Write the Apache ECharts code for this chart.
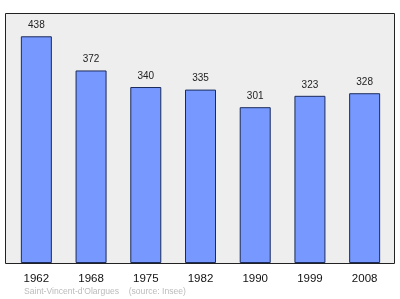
<!DOCTYPE html>
<html><head><meta charset="utf-8">
<script src="https://cdn.jsdelivr.net/npm/echarts@6/dist/echarts.min.js"></script>
<style>html,body{margin:0;padding:0;background:#fff}#c{width:400px;height:299px}</style>
</head><body><div id="c"></div>
<script>
const years = ['1962','1968','1975','1982','1990','1999','2008'];
const population = [438, 372, 340, 335, 301, 323, 328];
const footer = "Saint-Vincent-d'Olargues    (source: Insee)";

const chart = echarts.init(document.getElementById('c'), null, {renderer:'canvas'});
chart.setOption({
  animation: false,
  grid: {left: 9, right: 8, top: 13, bottom: 36},
  graphic: [
    {type:'rect', z:-10, shape:{x:5.5, y:13.5, width:389, height:250}, style:{fill:'#eeeeee', stroke:'#222', lineWidth:1}},
    {type:'text', left:24, top:287, style:{text: footer, fill:'#bbbbbb', font:'8.6px "Liberation Sans", Arial, sans-serif'}}
  ],
  xAxis: {
    type:'category', data: years,
    axisLine:{show:false}, axisTick:{show:false},
    axisLabel:{color:'#111', fontSize:11.5, margin:10, fontFamily:'"Liberation Sans", Arial, sans-serif'}
  },
  yAxis: {type:'value', min:0, max:483, show:false, splitLine:{show:false}},
  series: [{
    type:'bar', data: population, barWidth: 31,
    itemStyle:{color:'#7799ff', borderColor:'#1a2a5a', borderWidth:1},
    label:{show:true, position:'top', distance:6, color:'#222', fontSize:10, fontFamily:'"Liberation Sans", Arial, sans-serif'}
  }]
});
</script></body></html>
